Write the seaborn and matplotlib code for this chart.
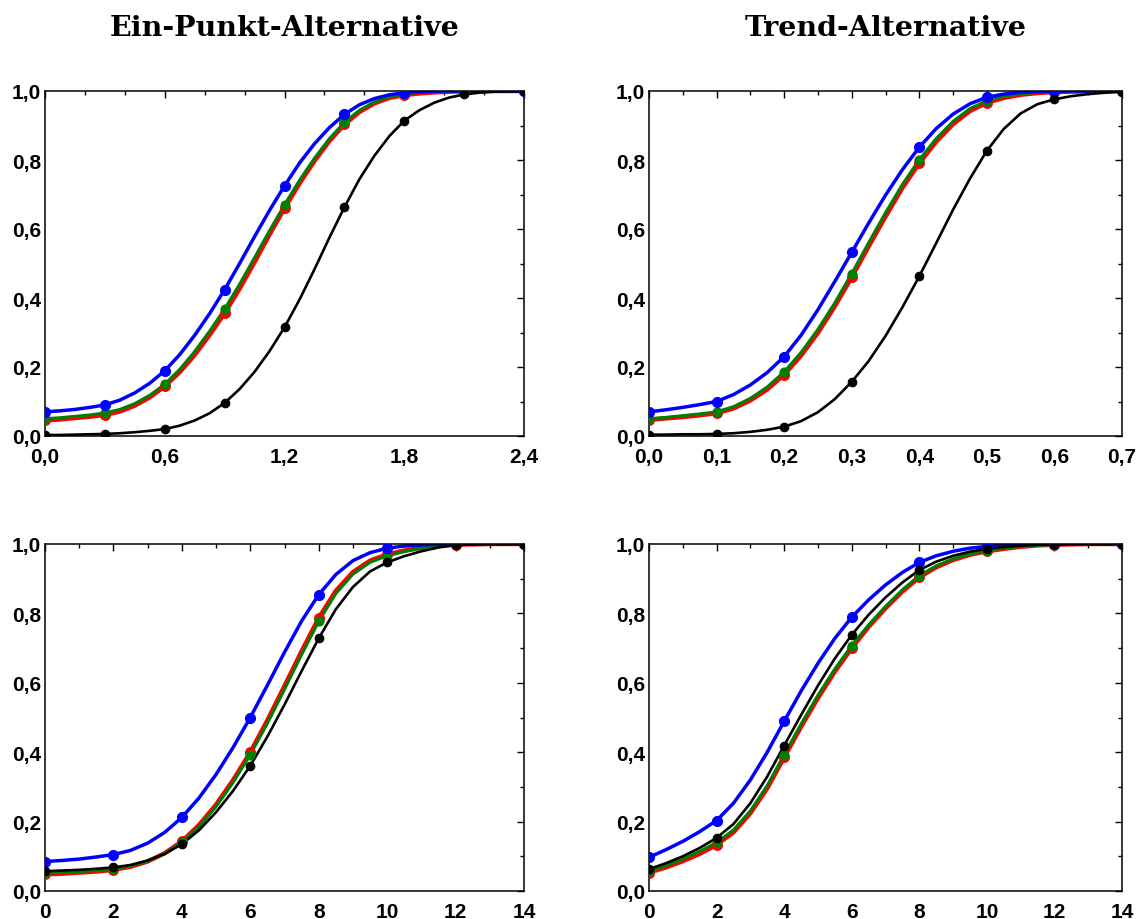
import matplotlib
matplotlib.use("Agg")
import matplotlib.pyplot as plt
from matplotlib.ticker import MultipleLocator, FuncFormatter
import seaborn as sns
import pandas as pd

# ---------------- data ----------------
# Curves sampled at quarter steps between the plotted markers;
# markers sit on every 4th sample.
# Panel 1: Ein-Punkt-Alternative (top-left), x step 0.075
p1_x = [round(0.075 * i, 3) for i in range(33)]
p1_blue = [0.070, 0.073, 0.077, 0.083, 0.090, 0.104, 0.125, 0.153, 0.189, 0.236, 0.292, 0.355, 0.424,
           0.500, 0.578, 0.654, 0.725, 0.791, 0.847, 0.894, 0.932, 0.960, 0.978, 0.989, 0.995,
           0.998, 0.999, 1.0, 1.0, 1.0, 1.0, 1.0, 1.0]
p1_red = [0.045, 0.048, 0.052, 0.056, 0.061, 0.071, 0.088, 0.112, 0.144, 0.185, 0.235, 0.293, 0.356,
          0.427, 0.504, 0.584, 0.660, 0.732, 0.797, 0.855, 0.903, 0.939, 0.964, 0.980, 0.988,
          0.993, 0.996, 0.998, 0.999, 1.0, 1.0, 1.0, 1.0]
p1_green = [0.050, 0.053, 0.057, 0.061, 0.067, 0.077, 0.094, 0.118, 0.150, 0.193, 0.245, 0.304, 0.368,
            0.440, 0.517, 0.595, 0.670, 0.741, 0.805, 0.862, 0.909, 0.944, 0.968, 0.983, 0.991,
            0.996, 0.998, 0.999, 1.0, 1.0, 1.0, 1.0, 1.0]
p1_black = [0.003, 0.003, 0.004, 0.005, 0.006, 0.008, 0.011, 0.015, 0.020, 0.030, 0.045, 0.066, 0.096,
            0.136, 0.186, 0.246, 0.315, 0.395, 0.483, 0.575, 0.663, 0.744, 0.812, 0.869, 0.914,
            0.944, 0.966, 0.981, 0.990, 0.995, 0.998, 0.999, 1.0]

# Panel 2: Trend-Alternative (top-right), x step 0.025
p2_x = [round(0.025 * i, 3) for i in range(29)]
p2_blue = [0.070, 0.076, 0.083, 0.091, 0.100, 0.120, 0.148, 0.184, 0.230, 0.292, 0.366, 0.448, 0.532,
           0.617, 0.698, 0.772, 0.837, 0.891, 0.933, 0.963, 0.982, 0.991, 0.996, 0.998, 0.999,
           1.0, 1.0, 1.0, 1.0]
p2_red = [0.047, 0.051, 0.055, 0.060, 0.066, 0.080, 0.103, 0.135, 0.178, 0.233, 0.299, 0.376, 0.460,
          0.549, 0.636, 0.719, 0.791, 0.853, 0.904, 0.942, 0.966, 0.980, 0.989, 0.994, 0.997,
          0.998, 0.999, 1.0, 1.0]
p2_green = [0.050, 0.054, 0.059, 0.064, 0.070, 0.085, 0.109, 0.142, 0.186, 0.242, 0.309, 0.386, 0.471,
            0.560, 0.647, 0.729, 0.801, 0.862, 0.912, 0.949, 0.972, 0.985, 0.992, 0.996, 0.998,
            0.999, 1.0, 1.0, 1.0]
p2_black = [0.004, 0.004, 0.005, 0.005, 0.006, 0.008, 0.012, 0.018, 0.027, 0.043, 0.069, 0.107, 0.157,
            0.217, 0.290, 0.373, 0.463, 0.559, 0.656, 0.746, 0.827, 0.890, 0.935, 0.962, 0.976,
            0.985, 0.991, 0.995, 0.998]

# Panel 3: bottom-left, x step 0.5
p3_x = [0.5 * i for i in range(29)]
p3_blue = [0.085, 0.088, 0.092, 0.098, 0.105, 0.117, 0.138, 0.169, 0.212, 0.268, 0.336, 0.414, 0.500,
           0.593, 0.688, 0.778, 0.854, 0.912, 0.952, 0.975, 0.988, 0.994, 0.997, 0.999, 1.0,
           1.0, 1.0, 1.0, 1.0]
p3_red = [0.048, 0.050, 0.053, 0.056, 0.061, 0.070, 0.085, 0.109, 0.143, 0.190, 0.249, 0.320, 0.400,
          0.492, 0.591, 0.691, 0.787, 0.865, 0.919, 0.952, 0.970, 0.981, 0.989, 0.995, 0.998,
          0.999, 1.0, 1.0, 1.0]
p3_green = [0.052, 0.054, 0.056, 0.059, 0.064, 0.072, 0.086, 0.108, 0.140, 0.185, 0.243, 0.313, 0.393,
            0.483, 0.581, 0.681, 0.777, 0.857, 0.913, 0.947, 0.966, 0.978, 0.988, 0.995, 0.999,
            1.0, 1.0, 1.0, 1.0]
p3_black = [0.057, 0.059, 0.061, 0.064, 0.068, 0.075, 0.088, 0.107, 0.135, 0.175, 0.227, 0.289, 0.361,
            0.445, 0.537, 0.634, 0.728, 0.812, 0.876, 0.921, 0.947, 0.965, 0.979, 0.990, 0.997,
            0.999, 1.0, 1.0, 1.0]

# Panel 4: bottom-right, x step 0.5
p4_x = [0.5 * i for i in range(29)]
p4_blue = [0.097, 0.119, 0.143, 0.171, 0.203, 0.253, 0.320, 0.400, 0.489, 0.576, 0.656, 0.728, 0.789,
           0.839, 0.882, 0.918, 0.947, 0.966, 0.979, 0.988, 0.993, 0.996, 0.998, 0.999, 1.0,
           1.0, 1.0, 1.0, 1.0]
p4_red = [0.053, 0.068, 0.086, 0.107, 0.133, 0.169, 0.224, 0.296, 0.385, 0.473, 0.556, 0.632, 0.700,
          0.761, 0.815, 0.863, 0.904, 0.933, 0.954, 0.969, 0.979, 0.986, 0.992, 0.996, 0.998,
          0.999, 1.0, 1.0, 1.0]
p4_green = [0.057, 0.073, 0.092, 0.114, 0.140, 0.176, 0.231, 0.304, 0.393, 0.481, 0.564, 0.640, 0.707,
            0.767, 0.820, 0.868, 0.909, 0.937, 0.957, 0.971, 0.981, 0.988, 0.993, 0.996, 0.998,
            0.999, 1.0, 1.0, 1.0]
p4_black = [0.063, 0.080, 0.100, 0.124, 0.153, 0.193, 0.253, 0.330, 0.419, 0.507, 0.592, 0.670, 0.738,
            0.796, 0.846, 0.889, 0.925, 0.949, 0.966, 0.978, 0.986, 0.991, 0.995, 0.998, 0.999,
            1.0, 1.0, 1.0, 1.0]

titles = ["Ein-Punkt-Alternative", "Trend-Alternative"]
y_ticks = [0.0, 0.2, 0.4, 0.6, 0.8, 1.0]
p1_xticks = [0.0, 0.6, 1.2, 1.8, 2.4]
p2_xticks = [0.0, 0.1, 0.2, 0.3, 0.4, 0.5, 0.6, 0.7]
p34_xticks = [0, 2, 4, 6, 8, 10, 12, 14]

# ---------------- style ----------------
sns.set_theme(style="white")
plt.rcParams["font.family"] = ["Liberation Sans", "DejaVu Sans"]
plt.rcParams["axes.edgecolor"] = "black"
plt.rcParams["axes.linewidth"] = 1.1
plt.rcParams["text.color"] = "black"

W, H = 1145, 920
fig = plt.figure(figsize=(W / 100, H / 100), dpi=100)

def frac(left, top, right, bottom):
    return [left / W, 1 - bottom / H, (right - left) / W, (bottom - top) / H]

axes = [
    fig.add_axes(frac(45, 92, 524, 437)),
    fig.add_axes(frac(649, 92, 1122, 437)),
    fig.add_axes(frac(45, 545, 524, 892)),
    fig.add_axes(frac(649, 545, 1122, 892)),
]

panels = [
    (p1_x, p1_red, p1_green, p1_blue, p1_black, p1_xticks, 0.2, 1),
    (p2_x, p2_red, p2_green, p2_blue, p2_black, p2_xticks, 0.05, 1),
    (p3_x, p3_red, p3_green, p3_blue, p3_black, p34_xticks, 1, 0),
    (p4_x, p4_red, p4_green, p4_blue, p4_black, p34_xticks, 1, 0),
]

series_style = [
    # (index in tuple, color, linewidth, marker size)
    (1, "#ff0000", 3.2, 50),
    (2, "#008000", 2.2, 42),
    (3, "#0000ff", 2.5, 52),
    (4, "#000000", 1.9, 38),
]

def comma_fmt(dec):
    def f(v, pos):
        s = f"{v:.{dec}f}"
        return s.replace(".", ",")
    return FuncFormatter(f)

for ax, panel in zip(axes, panels):
    xs = panel[0]
    for idx, col, lw, ms in series_style:
        ys = panel[idx]
        df = pd.DataFrame({"x": xs, "y": ys})
        sns.lineplot(data=df, x="x", y="y", color=col, lw=lw, ax=ax,
                     sort=False, estimator=None)
        dm = df.iloc[::4]
        sns.scatterplot(data=dm, x="x", y="y", color=col, s=ms,
                        edgecolor=col, linewidth=0.8, ax=ax, zorder=3)
    xt = panel[5]
    ax.set_xlim(xt[0], xt[-1])
    ax.set_ylim(0, 1)
    ax.set_xticks(xt)
    ax.set_yticks(y_ticks)
    ax.xaxis.set_minor_locator(MultipleLocator(panel[6]))
    ax.yaxis.set_minor_locator(MultipleLocator(0.1))
    ax.xaxis.set_major_formatter(comma_fmt(panel[7]))
    ax.yaxis.set_major_formatter(comma_fmt(1))
    ax.tick_params(which="both", direction="in", top=True, right=True,
                   color="black", width=1.0)
    ax.tick_params(which="major", length=5)
    ax.tick_params(which="minor", length=3)
    ax.tick_params(axis="x", which="major", pad=8)
    ax.tick_params(axis="y", which="major", pad=3)
    for lab in ax.get_xticklabels() + ax.get_yticklabels():
        lab.set_fontsize(15)
        lab.set_fontweight("bold")
        lab.set_color("black")
    ax.set_xlabel("")
    ax.set_ylabel("")
    for sp in ax.spines.values():
        sp.set_visible(True)
        sp.set_color("black")

for ax, t in zip(axes[:2], titles):
    pos = ax.get_position()
    fig.text((pos.x0 + pos.x1) / 2, 1 - 36 / H, t, ha="center", va="baseline",
             fontsize=20.5, fontweight="bold", family="DejaVu Serif", color="black")

fig.savefig("out.png", dpi=100, facecolor="white")
